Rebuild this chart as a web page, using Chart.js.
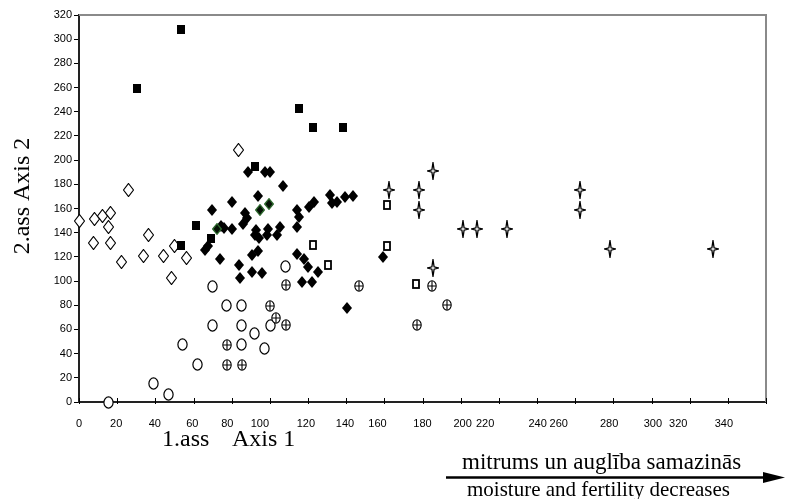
<!DOCTYPE html>
<html><head><meta charset="utf-8">
<script src="https://cdn.jsdelivr.net/npm/chart.js@4.4.1/dist/chart.umd.min.js"></script>
<style>html,body{margin:0;padding:0;background:#fff;}</style>
</head><body>
<canvas id="c" width="785" height="499"></canvas>
<script>
// ---- tick labels (x labels sit at slightly irregular positions in the original) ----
const xTickLabels = ['0','20','40','60','80','100','120','140','160','180','200','220','240','260','280','300','320','340'];
const xLabelPos   = [0, 19.5, 39.7, 59.4, 77.7, 94.8, 118.9, 139.4, 156.4, 180.0, 201.0, 212.8, 240.3, 251.4, 277.8, 300.7, 314.0, 337.9];

// ---- series: [Axis 1, Axis 2] ----
const filledSquares = [[30.6,259.4],[53.7,307.6],[53.7,129.7],[61.5,145.8],[69.1,135.3],[92.2,194.7],[115.2,242.9],[122.7,226.9],[138.2,226.9]];
const openDiamonds = [[0,149.8],[7.9,151.2],[12.3,154.2],[16.5,156.2],[15.6,144.6],[7.6,131.4],[16.5,131.4],[22.2,115.7],[33.9,120.9],[36.6,138.2],[44.3,120.9],[49.8,129.4],[48.5,102.5],[56.5,119.0],[26.1,175.4],[83.4,208.5]];
const filledDiamonds = [[69.9,158.6],[80.3,165.2],[88.3,190.5],[97.7,190.5],[100.0,190.5],[106.7,178.7],[93.7,170.5],[87.2,156.0],[88.0,152.0],[86.0,146.9],[74.2,145.3],[75.9,144.0],[80.3,143.2],[65.9,125.8],[67.7,128.7],[74.1,118.0],[83.8,112.9],[84.4,102.5],[90.4,121.7],[90.7,107.9],[92.2,138.2],[93.0,142.4],[94.3,135.8],[99.0,142.8],[98.3,138.2],[105.5,145.1],[104.0,138.2],[93.9,124.6],[95.7,106.6],[131.5,170.9],[139.4,169.9],[135.4,165.7],[132.5,164.4],[123.0,165.5],[120.3,161.6],[114.0,159.1],[115.2,152.7],[114.0,144.6],[114.2,122.5],[117.9,118.4],[120.1,112.0],[125.5,107.9],[116.7,99.6],[121.9,99.6],[143.7,170.5],[159.5,120.3],[140.3,77.7]];
const greenDiamonds = [[72.1,143.4],[94.8,158.5],[99.5,163.6]];
const openCircles = [[15.7,0],[39.0,14.9],[47.0,6.6],[54.4,47.3],[62.1,30.8],[69.8,95.5],[69.8,63.3],[77.5,79.6],[85.2,79.6],[85.2,63.3],[85.2,47.3],[92.2,57.0],[97.1,44.0],[100.3,63.5],[108.3,112.0]];
const crossedCircles = [[77.5,47.3],[77.5,30.8],[85.2,30.8],[100.3,79.2],[103.2,69.7],[108.4,63.5],[108.3,96.9],[146.7,96.1],[185.2,96.1],[192.7,79.8],[177.3,63.3]];
const openSquares = [[122.7,130.0],[130.6,113.4],[161.6,163.0],[161.6,129.4],[176.6,97.5]];
const stars = [[162.6,175.4],[178.0,175.4],[178.0,158.9],[185.7,191.4],[185.7,110.7],[201.1,142.9],[208.8,142.9],[224.2,142.9],[262.6,175.4],[262.6,158.9],[278.0,126.4],[332.0,126.4]];

// ---- marker images ----
function mk(w,h,draw){const c=document.createElement('canvas');c.width=w;c.height=h;const g=c.getContext('2d');draw(g,w,h);return c;}
const mFilledSquare = mk(8,9,(g,w,h)=>{g.fillStyle='#000';g.fillRect(0,0,w,h);});
const mOpenDiamond = mk(11,14,(g)=>{g.beginPath();g.moveTo(5.5,0.5);g.lineTo(10.5,7);g.lineTo(5.5,13.5);g.lineTo(0.5,7);g.closePath();g.fillStyle='#fff';g.fill();g.strokeStyle='#000';g.lineWidth=1.2;g.stroke();});
const mFilledDiamond = mk(10,12,(g)=>{g.beginPath();g.moveTo(5,0);g.lineTo(10,6);g.lineTo(5,12);g.lineTo(0,6);g.closePath();g.fillStyle='#000';g.fill();});
const mGreenDiamond = mk(10,12,(g)=>{g.beginPath();g.moveTo(5,0.7);g.lineTo(9.3,6);g.lineTo(5,11.3);g.lineTo(0.7,6);g.closePath();g.fillStyle='#061206';g.fill();g.strokeStyle='#2e6a2e';g.lineWidth=1.3;g.stroke();});
const mOpenCircle = mk(11,13,(g)=>{g.beginPath();g.ellipse(5.5,6.5,4.6,5.6,0,0,Math.PI*2);g.fillStyle='#fff';g.fill();g.strokeStyle='#000';g.lineWidth=1.2;g.stroke();});
const mCrossCircle = mk(10,12,(g)=>{g.beginPath();g.ellipse(5,6,4.2,5.2,0,0,Math.PI*2);g.fillStyle='#fff';g.fill();g.strokeStyle='#000';g.lineWidth=1.1;g.stroke();g.beginPath();g.moveTo(1,6);g.lineTo(9,6);g.moveTo(5,1);g.lineTo(5,11);g.stroke();});
const mOpenSquare = mk(8,10,(g)=>{g.fillStyle='#fff';g.fillRect(0,0,8,10);g.strokeStyle='#000';g.lineWidth=1.8;g.strokeRect(1,1,6,8);});
const mStar = mk(12,18,(g)=>{g.beginPath();g.moveTo(6,0.5);g.lineTo(7.1,7.8);g.lineTo(11.5,9);g.lineTo(7.1,10.2);g.lineTo(6,17.5);g.lineTo(4.9,10.2);g.lineTo(0.5,9);g.lineTo(4.9,7.8);g.closePath();g.fillStyle='#fff';g.fill();g.strokeStyle='#000';g.lineWidth=1.3;g.stroke();});

function ds(label, pts, img){
  return {label, data: pts.map(p=>({x:p[0], y:p[1]})), pointStyle: img, pointRadius: 5, pointHoverRadius: 5, clip: false, showLine: false};
}

const serif = "'Liberation Serif','Times New Roman',serif";

const crisp = {
  id: 'crisp',
  beforeDatasetsDraw(chart){ chart.ctx.save(); chart.ctx.imageSmoothingEnabled = false; },
  afterDatasetsDraw(chart){ chart.ctx.restore(); }
};

const decor = {
  id: 'decor',
  afterDraw(chart){
    const ctx = chart.ctx, ca = chart.chartArea, xs = chart.scales.x;
    ctx.save();
    // gray frame top/right
    ctx.strokeStyle = '#8a8a8a'; ctx.lineWidth = 2;
    ctx.beginPath(); ctx.moveTo(ca.left, ca.top); ctx.lineTo(ca.right, ca.top); ctx.lineTo(ca.right, ca.bottom); ctx.stroke();
    // evenly spaced x tick marks
    ctx.strokeStyle = '#000'; ctx.lineWidth = 1;
    for (let v = 0; v <= 360; v += 20) {
      const px = Math.round(xs.getPixelForValue(v)) + 0.5;
      ctx.beginPath(); ctx.moveTo(px, ca.bottom - 4); ctx.lineTo(px, ca.bottom + 2); ctx.stroke();
    }
    // axis titles
    ctx.fillStyle = '#000';
    ctx.font = '24px ' + serif;
    ctx.textBaseline = 'middle'; ctx.textAlign = 'left';
    ctx.fillText('1.ass', 162, 440);
    ctx.fillText('Axis 1', 232, 440);
    ctx.save(); ctx.translate(23, 196); ctx.rotate(-Math.PI/2); ctx.textAlign = 'center';
    ctx.fillText('2.ass Axis 2', 0, 0); ctx.restore();
    // arrow annotation
    ctx.font = '23px ' + serif;
    ctx.fillText('mitrums un auglība samazinās', 462, 463);
    ctx.font = '21px ' + serif;
    ctx.fillText('moisture and fertility decreases', 467, 490);
    ctx.strokeStyle = '#000'; ctx.lineWidth = 2.5;
    ctx.beginPath(); ctx.moveTo(446, 477.5); ctx.lineTo(768, 477.5); ctx.stroke();
    ctx.beginPath(); ctx.moveTo(785, 477.5); ctx.lineTo(763, 472); ctx.lineTo(763, 483); ctx.closePath(); ctx.fill();
    ctx.restore();
  }
};

new Chart(document.getElementById('c'), {
  type: 'scatter',
  data: { datasets: [
    ds('filled squares', filledSquares, mFilledSquare),
    ds('green diamonds', greenDiamonds, mGreenDiamond),
    ds('filled diamonds', filledDiamonds, mFilledDiamond),
    ds('open squares', openSquares, mOpenSquare),
    ds('stars', stars, mStar),
    ds('crossed circles', crossedCircles, mCrossCircle),
    ds('open circles', openCircles, mOpenCircle),
    ds('open diamonds', openDiamonds, mOpenDiamond)
  ]},
  options: {
    responsive: false, animation: false, devicePixelRatio: 1,
    layout: { padding: { left: 0, top: 15, right: 19, bottom: 0 } },
    plugins: { legend: { display: false }, tooltip: { enabled: false } },
    scales: {
      x: {
        type: 'linear', min: 0, max: 360,
        afterBuildTicks: s => { s.ticks = xLabelPos.map(v => ({ value: v })); },
        afterFit: s => { s.height = 97; },
        grid: { display: false, drawTicks: false },
        border: { display: true, color: '#222', width: 2 },
        ticks: { color: '#000', font: { family: "'Liberation Sans',Arial,sans-serif", size: 11 }, padding: 15, maxRotation: 0, autoSkip: false,
                 callback: (v, i) => xTickLabels[i] }
      },
      y: {
        type: 'linear', min: 0, max: 320,
        afterFit: s => { s.width = 79; },
        grid: { drawOnChartArea: false, drawTicks: true, tickLength: 5, color: '#000' },
        border: { display: true, color: '#222', width: 2 },
        ticks: { stepSize: 20, color: '#000', font: { family: "'Liberation Sans',Arial,sans-serif", size: 11 }, padding: 2 }
      }
    }
  },
  plugins: [crisp, decor]
});
</script>
</body></html>
